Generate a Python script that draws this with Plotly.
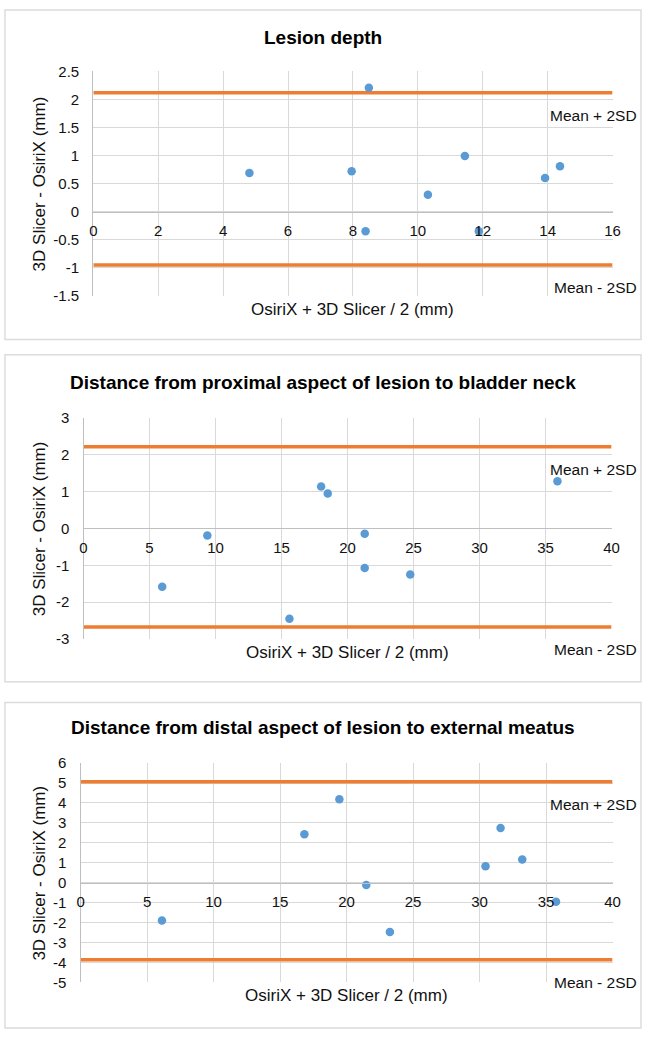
import plotly.graph_objects as go

W, H = 650, 1037
FONT = "Liberation Sans, Arial, Helvetica, sans-serif"
BLUE = "#5b9bd5"
ORANGE = "#ed7d31"
GRID = "#d9d9d9"
AXIS = "#bfbfbf"

# Lesion depth
depth_x = [4.81, 7.96, 8.49, 8.39, 10.31, 11.45, 11.88, 13.92, 14.38]
depth_y = [0.69, 0.72, 2.21, -0.35, 0.30, 0.99, -0.35, 0.60, 0.81]
depth_limits = [2.12, -0.95]
depth_xticks = [0, 2, 4, 6, 8, 10, 12, 14, 16]
depth_yticks = [2.5, 2, 1.5, 1, 0.5, 0, -0.5, -1, -1.5]

# Distance from proximal aspect of lesion to bladder neck
prox_x = [5.96, 9.38, 15.6, 18.0, 18.5, 21.3, 21.3, 24.75, 35.9]
prox_y = [-1.58, -0.19, -2.45, 1.14, 0.95, -0.14, -1.07, -1.25, 1.28]
prox_limits = [2.22, -2.67]
prox_xticks = [0, 5, 10, 15, 20, 25, 30, 35, 40]
prox_yticks = [3, 2, 1, 0, -1, -2, -3]

# Distance from distal aspect of lesion to external meatus
dist_x = [6.12, 16.83, 19.46, 21.48, 23.26, 30.45, 31.58, 33.21, 35.75]
dist_y = [-1.89, 2.43, 4.19, -0.11, -2.47, 0.83, 2.75, 1.16, -0.95]
dist_limits = [5.06, -3.86]
dist_xticks = [0, 5, 10, 15, 20, 25, 30, 35, 40]
dist_yticks = [6, 5, 4, 3, 2, 1, 0, -1, -2, -3, -4, -5]

limit_labels = ["Mean + 2SD", "Mean - 2SD"]
x_title = "OsiriX + 3D Slicer / 2 (mm)"
y_title = "3D Slicer - OsiriX (mm)"


def fx(px):
    return px / W


def fy(py):
    return 1 - py / H


# pixel geometry of each panel: frame box, plot area, title row
panels = [
    dict(title="Lesion depth", x=depth_x, y=depth_y, limits=depth_limits,
         xticks=depth_xticks, yticks=depth_yticks,
         box=(1, 1, 649, 336), plot=(91, 63.5, 620, 291.5), title_y=28.6),
    dict(title="Distance from proximal aspect of lesion to bladder neck",
         x=prox_x, y=prox_y, limits=prox_limits,
         xticks=prox_xticks, yticks=prox_yticks,
         box=(1, 351.5, 649, 684), plot=(81, 415.7, 619, 640.6), title_y=379.7),
    dict(title="Distance from distal aspect of lesion to external meatus",
         x=dist_x, y=dist_y, limits=dist_limits,
         xticks=dist_xticks, yticks=dist_yticks,
         box=(1, 705, 649, 1036), plot=(78, 766.7, 620, 989.6), title_y=730.7),
]

fig = go.Figure()
annotations = []
shapes = []
layout = {}

for i, p in enumerate(panels):
    s = "" if i == 0 else str(i + 1)
    xa, ya = "x" + s, "y" + s
    l, t, r, b = p["plot"]
    ylo, yhi = p["yticks"][-1], p["yticks"][0]
    xlo, xhi = p["xticks"][0], p["xticks"][-1]
    # x axis crosses at y = 0, as in the Excel original
    zero_pos = fy(b) + (0 - ylo) / (yhi - ylo) * (fy(t) - fy(b))

    # limit-of-agreement lines
    for lim in p["limits"]:
        fig.add_trace(go.Scatter(
            x=[xlo, xhi], y=[lim, lim], mode="lines",
            line=dict(color=ORANGE, width=3.5),
            xaxis=xa, yaxis=ya, showlegend=False, hoverinfo="skip"
        ))

    fig.add_trace(go.Scatter(
        x=p["x"], y=p["y"], mode="markers",
        marker=dict(color=BLUE, size=8.5),
        xaxis=xa, yaxis=ya, showlegend=False
    ))

    layout["xaxis" + s] = dict(
        domain=[fx(l), fx(r)], range=[xlo, xhi],
        tickvals=p["xticks"], ticktext=[f"{v:g}" for v in p["xticks"]],
        anchor="free", position=zero_pos,
        showgrid=True, gridcolor=GRID, gridwidth=1.3,
        showline=True, linecolor=AXIS, linewidth=1.3, zeroline=False,
        ticks="", ticklabelstandoff=5,
        tickfont=dict(family=FONT, size=15, color="#111111"),
    )
    layout["yaxis" + s] = dict(
        domain=[fy(b), fy(t)], range=[ylo, yhi], anchor=xa,
        tickvals=p["yticks"], ticktext=[f"{v:g}" for v in p["yticks"]],
        showgrid=True, gridcolor=GRID, gridwidth=1.3,
        showline=True, linecolor=AXIS, linewidth=1.3, zeroline=False,
        ticks="", ticklabelstandoff=10,
        tickfont=dict(family=FONT, size=15, color="#111111"),
    )

    bx0, by0, bx1, by1 = p["box"]
    shapes.append(dict(type="rect", xref="paper", yref="paper",
                       x0=fx(bx0), x1=fx(bx1), y0=fy(by1), y1=fy(by0),
                       line=dict(color="#dcdcdc", width=1.5), layer="below"))

    annotations.append(dict(text="<b>" + p["title"] + "</b>", xref="paper", yref="paper",
                            x=0.5, y=fy(p["title_y"]), xanchor="center", yanchor="middle",
                            showarrow=False, font=dict(family=FONT, size=19, color="#000000")))
    annotations.append(dict(text=x_title, xref="paper", yref="paper",
                            x=fx((l + r) / 2), y=fy(b + 13.5), xanchor="center", yanchor="middle",
                            showarrow=False, font=dict(family=FONT, size=17, color="#111111")))
    annotations.append(dict(text=y_title, xref="paper", yref="paper", textangle=-90,
                            x=fx(36.5), y=fy((t + b) / 2), xanchor="center", yanchor="middle",
                            showarrow=False, font=dict(family=FONT, size=17, color="#111111")))
    for lim, lab in zip(p["limits"], limit_labels):
        annotations.append(dict(text=lab, xref="paper", yref=ya, x=fx(647), y=lim,
                                yshift=-23, xanchor="right", yanchor="middle",
                                showarrow=False, font=dict(family=FONT, size=15.5, color="#111111")))

fig.update_layout(
    **layout,
    width=W, height=H,
    margin=dict(l=0, r=0, t=0, b=0),
    paper_bgcolor="white", plot_bgcolor="white",
    shapes=shapes, annotations=annotations,
    showlegend=False,
)

# drop the default page margin so the 650x1037 figure fills the window
fig.write_html("out.html", config={"displayModeBar": False},
               post_script="document.body.style.margin='0px';")
